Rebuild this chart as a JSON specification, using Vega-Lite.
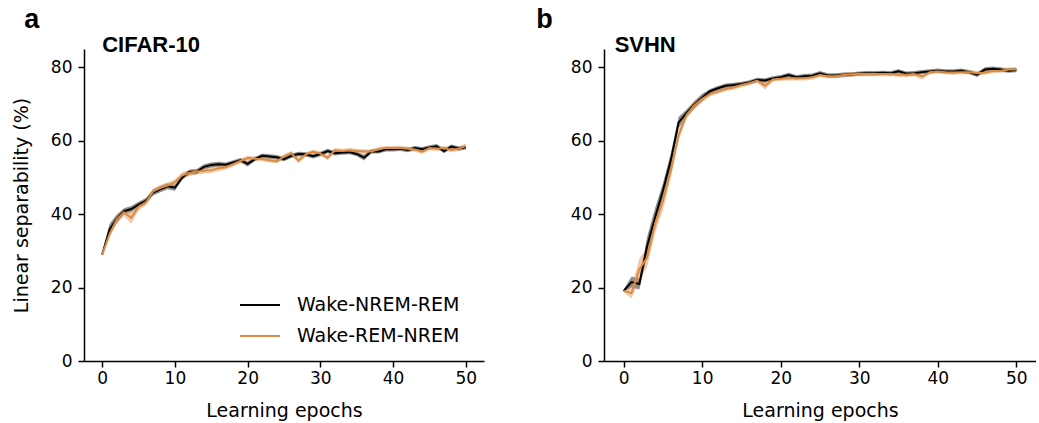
{
"$schema": "https://vega.github.io/schema/vega-lite/v6.json",
"background": "white",
"padding": {"left": 12, "top": 6, "right": 0, "bottom": 4},
"config": {
  "view": {"stroke": null},
  "axis": {"domainColor": "black", "tickColor": "black", "labelColor": "black", "titleColor": "black", "labelFont": "DejaVu Sans", "titleFont": "DejaVu Sans", "labelFontSize": 17, "titleFontSize": 19, "titleFontWeight": "normal", "grid": false, "tickSize": 6, "domainWidth": 1.5, "tickWidth": 1.5},
  "axisX": {"labelPadding": 3, "titlePadding": 15},
  "axisY": {"labelPadding": 6, "titlePadding": 19},
  "legend": {"labelFont": "DejaVu Sans", "labelFontSize": 19, "labelColor": "black", "labelLimit": 0}
},
"data": {"values": [
{"p":"a","s":"Wake-NREM-REM","e":0,"m":29.0,"lo":28.7,"hi":29.3},
{"p":"a","s":"Wake-NREM-REM","e":1,"m":35.8,"lo":34.3,"hi":37.3},
{"p":"a","s":"Wake-NREM-REM","e":2,"m":38.7,"lo":37.5,"hi":39.9},
{"p":"a","s":"Wake-NREM-REM","e":3,"m":40.8,"lo":40.0,"hi":41.6},
{"p":"a","s":"Wake-NREM-REM","e":4,"m":41.4,"lo":40.6,"hi":42.2},
{"p":"a","s":"Wake-NREM-REM","e":5,"m":42.6,"lo":41.8,"hi":43.4},
{"p":"a","s":"Wake-NREM-REM","e":6,"m":43.6,"lo":42.8,"hi":44.4},
{"p":"a","s":"Wake-NREM-REM","e":7,"m":45.9,"lo":45.1,"hi":46.7},
{"p":"a","s":"Wake-NREM-REM","e":8,"m":46.8,"lo":46.0,"hi":47.6},
{"p":"a","s":"Wake-NREM-REM","e":9,"m":47.6,"lo":46.8,"hi":48.4},
{"p":"a","s":"Wake-NREM-REM","e":10,"m":47.2,"lo":46.4,"hi":48.0},
{"p":"a","s":"Wake-NREM-REM","e":11,"m":50.0,"lo":49.3,"hi":50.7},
{"p":"a","s":"Wake-NREM-REM","e":12,"m":51.5,"lo":50.8,"hi":52.2},
{"p":"a","s":"Wake-NREM-REM","e":13,"m":51.6,"lo":50.9,"hi":52.3},
{"p":"a","s":"Wake-NREM-REM","e":14,"m":52.9,"lo":52.2,"hi":53.6},
{"p":"a","s":"Wake-NREM-REM","e":15,"m":53.4,"lo":52.7,"hi":54.1},
{"p":"a","s":"Wake-NREM-REM","e":16,"m":53.6,"lo":52.9,"hi":54.3},
{"p":"a","s":"Wake-NREM-REM","e":17,"m":53.5,"lo":52.9,"hi":54.1},
{"p":"a","s":"Wake-NREM-REM","e":18,"m":54.1,"lo":53.5,"hi":54.7},
{"p":"a","s":"Wake-NREM-REM","e":19,"m":54.7,"lo":54.1,"hi":55.3},
{"p":"a","s":"Wake-NREM-REM","e":20,"m":53.7,"lo":53.0,"hi":54.4},
{"p":"a","s":"Wake-NREM-REM","e":21,"m":55.0,"lo":54.4,"hi":55.6},
{"p":"a","s":"Wake-NREM-REM","e":22,"m":55.9,"lo":55.3,"hi":56.5},
{"p":"a","s":"Wake-NREM-REM","e":23,"m":55.7,"lo":55.1,"hi":56.3},
{"p":"a","s":"Wake-NREM-REM","e":24,"m":55.5,"lo":54.9,"hi":56.1},
{"p":"a","s":"Wake-NREM-REM","e":25,"m":55.0,"lo":54.4,"hi":55.6},
{"p":"a","s":"Wake-NREM-REM","e":26,"m":55.9,"lo":55.3,"hi":56.5},
{"p":"a","s":"Wake-NREM-REM","e":27,"m":56.4,"lo":55.8,"hi":57.0},
{"p":"a","s":"Wake-NREM-REM","e":28,"m":56.3,"lo":55.7,"hi":56.9},
{"p":"a","s":"Wake-NREM-REM","e":29,"m":55.8,"lo":55.2,"hi":56.4},
{"p":"a","s":"Wake-NREM-REM","e":30,"m":56.4,"lo":55.8,"hi":57.0},
{"p":"a","s":"Wake-NREM-REM","e":31,"m":57.2,"lo":56.6,"hi":57.8},
{"p":"a","s":"Wake-NREM-REM","e":32,"m":56.6,"lo":56.0,"hi":57.2},
{"p":"a","s":"Wake-NREM-REM","e":33,"m":56.8,"lo":56.2,"hi":57.4},
{"p":"a","s":"Wake-NREM-REM","e":34,"m":56.9,"lo":56.3,"hi":57.5},
{"p":"a","s":"Wake-NREM-REM","e":35,"m":56.4,"lo":55.8,"hi":57.0},
{"p":"a","s":"Wake-NREM-REM","e":36,"m":55.4,"lo":54.6,"hi":56.2},
{"p":"a","s":"Wake-NREM-REM","e":37,"m":57.1,"lo":56.5,"hi":57.7},
{"p":"a","s":"Wake-NREM-REM","e":38,"m":57.1,"lo":56.5,"hi":57.7},
{"p":"a","s":"Wake-NREM-REM","e":39,"m":57.7,"lo":57.1,"hi":58.3},
{"p":"a","s":"Wake-NREM-REM","e":40,"m":57.7,"lo":57.1,"hi":58.3},
{"p":"a","s":"Wake-NREM-REM","e":41,"m":57.8,"lo":57.2,"hi":58.4},
{"p":"a","s":"Wake-NREM-REM","e":42,"m":57.5,"lo":56.9,"hi":58.1},
{"p":"a","s":"Wake-NREM-REM","e":43,"m":58.0,"lo":57.4,"hi":58.6},
{"p":"a","s":"Wake-NREM-REM","e":44,"m":57.7,"lo":57.1,"hi":58.3},
{"p":"a","s":"Wake-NREM-REM","e":45,"m":58.2,"lo":57.6,"hi":58.8},
{"p":"a","s":"Wake-NREM-REM","e":46,"m":58.5,"lo":57.9,"hi":59.1},
{"p":"a","s":"Wake-NREM-REM","e":47,"m":57.2,"lo":56.6,"hi":57.8},
{"p":"a","s":"Wake-NREM-REM","e":48,"m":58.4,"lo":57.8,"hi":59.0},
{"p":"a","s":"Wake-NREM-REM","e":49,"m":57.9,"lo":57.3,"hi":58.5},
{"p":"a","s":"Wake-NREM-REM","e":50,"m":58.2,"lo":57.6,"hi":58.8},
{"p":"a","s":"Wake-REM-NREM","e":0,"m":29.0,"lo":28.7,"hi":29.3},
{"p":"a","s":"Wake-REM-NREM","e":1,"m":34.5,"lo":33.5,"hi":35.5},
{"p":"a","s":"Wake-REM-NREM","e":2,"m":38.5,"lo":37.5,"hi":39.5},
{"p":"a","s":"Wake-REM-NREM","e":3,"m":40.5,"lo":39.5,"hi":41.5},
{"p":"a","s":"Wake-REM-NREM","e":4,"m":39.0,"lo":37.4,"hi":40.6},
{"p":"a","s":"Wake-REM-NREM","e":5,"m":42.0,"lo":41.0,"hi":43.0},
{"p":"a","s":"Wake-REM-NREM","e":6,"m":43.2,"lo":42.4,"hi":44.0},
{"p":"a","s":"Wake-REM-NREM","e":7,"m":46.2,"lo":45.4,"hi":47.0},
{"p":"a","s":"Wake-REM-NREM","e":8,"m":47.2,"lo":46.4,"hi":48.0},
{"p":"a","s":"Wake-REM-NREM","e":9,"m":47.8,"lo":47.0,"hi":48.6},
{"p":"a","s":"Wake-REM-NREM","e":10,"m":48.7,"lo":47.9,"hi":49.5},
{"p":"a","s":"Wake-REM-NREM","e":11,"m":50.6,"lo":49.8,"hi":51.4},
{"p":"a","s":"Wake-REM-NREM","e":12,"m":51.2,"lo":50.4,"hi":52.0},
{"p":"a","s":"Wake-REM-NREM","e":13,"m":51.6,"lo":50.8,"hi":52.4},
{"p":"a","s":"Wake-REM-NREM","e":14,"m":51.8,"lo":51.0,"hi":52.6},
{"p":"a","s":"Wake-REM-NREM","e":15,"m":52.0,"lo":51.2,"hi":52.8},
{"p":"a","s":"Wake-REM-NREM","e":16,"m":52.5,"lo":51.7,"hi":53.3},
{"p":"a","s":"Wake-REM-NREM","e":17,"m":52.8,"lo":52.2,"hi":53.4},
{"p":"a","s":"Wake-REM-NREM","e":18,"m":53.6,"lo":53.0,"hi":54.2},
{"p":"a","s":"Wake-REM-NREM","e":19,"m":54.5,"lo":53.9,"hi":55.1},
{"p":"a","s":"Wake-REM-NREM","e":20,"m":55.3,"lo":54.7,"hi":55.9},
{"p":"a","s":"Wake-REM-NREM","e":21,"m":55.1,"lo":54.5,"hi":55.7},
{"p":"a","s":"Wake-REM-NREM","e":22,"m":55.0,"lo":54.4,"hi":55.6},
{"p":"a","s":"Wake-REM-NREM","e":23,"m":54.7,"lo":54.1,"hi":55.3},
{"p":"a","s":"Wake-REM-NREM","e":24,"m":54.4,"lo":53.8,"hi":55.0},
{"p":"a","s":"Wake-REM-NREM","e":25,"m":55.7,"lo":55.1,"hi":56.3},
{"p":"a","s":"Wake-REM-NREM","e":26,"m":56.6,"lo":56.0,"hi":57.2},
{"p":"a","s":"Wake-REM-NREM","e":27,"m":54.6,"lo":53.8,"hi":55.4},
{"p":"a","s":"Wake-REM-NREM","e":28,"m":56.3,"lo":55.7,"hi":56.9},
{"p":"a","s":"Wake-REM-NREM","e":29,"m":57.0,"lo":56.4,"hi":57.6},
{"p":"a","s":"Wake-REM-NREM","e":30,"m":56.5,"lo":55.9,"hi":57.1},
{"p":"a","s":"Wake-REM-NREM","e":31,"m":55.4,"lo":54.7,"hi":56.1},
{"p":"a","s":"Wake-REM-NREM","e":32,"m":57.4,"lo":56.8,"hi":58.0},
{"p":"a","s":"Wake-REM-NREM","e":33,"m":57.2,"lo":56.6,"hi":57.8},
{"p":"a","s":"Wake-REM-NREM","e":34,"m":57.4,"lo":56.8,"hi":58.0},
{"p":"a","s":"Wake-REM-NREM","e":35,"m":57.2,"lo":56.6,"hi":57.8},
{"p":"a","s":"Wake-REM-NREM","e":36,"m":57.1,"lo":56.5,"hi":57.7},
{"p":"a","s":"Wake-REM-NREM","e":37,"m":57.1,"lo":56.5,"hi":57.7},
{"p":"a","s":"Wake-REM-NREM","e":38,"m":57.7,"lo":57.1,"hi":58.3},
{"p":"a","s":"Wake-REM-NREM","e":39,"m":58.0,"lo":57.4,"hi":58.6},
{"p":"a","s":"Wake-REM-NREM","e":40,"m":58.0,"lo":57.4,"hi":58.6},
{"p":"a","s":"Wake-REM-NREM","e":41,"m":58.0,"lo":57.4,"hi":58.6},
{"p":"a","s":"Wake-REM-NREM","e":42,"m":57.8,"lo":57.2,"hi":58.4},
{"p":"a","s":"Wake-REM-NREM","e":43,"m":57.6,"lo":57.0,"hi":58.2},
{"p":"a","s":"Wake-REM-NREM","e":44,"m":57.0,"lo":56.4,"hi":57.6},
{"p":"a","s":"Wake-REM-NREM","e":45,"m":58.0,"lo":57.4,"hi":58.6},
{"p":"a","s":"Wake-REM-NREM","e":46,"m":57.8,"lo":57.2,"hi":58.4},
{"p":"a","s":"Wake-REM-NREM","e":47,"m":58.0,"lo":57.4,"hi":58.6},
{"p":"a","s":"Wake-REM-NREM","e":48,"m":57.5,"lo":56.9,"hi":58.1},
{"p":"a","s":"Wake-REM-NREM","e":49,"m":57.8,"lo":57.2,"hi":58.4},
{"p":"a","s":"Wake-REM-NREM","e":50,"m":58.6,"lo":58.0,"hi":59.2},
{"p":"b","s":"Wake-NREM-REM","e":0,"m":19.1,"lo":18.7,"hi":19.5},
{"p":"b","s":"Wake-NREM-REM","e":1,"m":21.5,"lo":20.0,"hi":23.0},
{"p":"b","s":"Wake-NREM-REM","e":2,"m":21.0,"lo":19.5,"hi":22.5},
{"p":"b","s":"Wake-NREM-REM","e":3,"m":31.4,"lo":28.9,"hi":33.9},
{"p":"b","s":"Wake-NREM-REM","e":4,"m":39.1,"lo":36.6,"hi":41.6},
{"p":"b","s":"Wake-NREM-REM","e":5,"m":46.4,"lo":44.4,"hi":48.4},
{"p":"b","s":"Wake-NREM-REM","e":6,"m":54.6,"lo":52.6,"hi":56.6},
{"p":"b","s":"Wake-NREM-REM","e":7,"m":65.0,"lo":63.5,"hi":66.5},
{"p":"b","s":"Wake-NREM-REM","e":8,"m":67.5,"lo":66.5,"hi":68.5},
{"p":"b","s":"Wake-NREM-REM","e":9,"m":69.8,"lo":68.8,"hi":70.8},
{"p":"b","s":"Wake-NREM-REM","e":10,"m":71.8,"lo":70.8,"hi":72.8},
{"p":"b","s":"Wake-NREM-REM","e":11,"m":73.5,"lo":72.9,"hi":74.1},
{"p":"b","s":"Wake-NREM-REM","e":12,"m":74.3,"lo":73.7,"hi":74.9},
{"p":"b","s":"Wake-NREM-REM","e":13,"m":75.0,"lo":74.4,"hi":75.6},
{"p":"b","s":"Wake-NREM-REM","e":14,"m":75.2,"lo":74.6,"hi":75.8},
{"p":"b","s":"Wake-NREM-REM","e":15,"m":75.5,"lo":74.9,"hi":76.1},
{"p":"b","s":"Wake-NREM-REM","e":16,"m":75.9,"lo":75.3,"hi":76.5},
{"p":"b","s":"Wake-NREM-REM","e":17,"m":76.6,"lo":76.0,"hi":77.2},
{"p":"b","s":"Wake-NREM-REM","e":18,"m":76.4,"lo":75.8,"hi":77.0},
{"p":"b","s":"Wake-NREM-REM","e":19,"m":77.0,"lo":76.4,"hi":77.6},
{"p":"b","s":"Wake-NREM-REM","e":20,"m":77.3,"lo":76.7,"hi":77.9},
{"p":"b","s":"Wake-NREM-REM","e":21,"m":77.9,"lo":77.3,"hi":78.5},
{"p":"b","s":"Wake-NREM-REM","e":22,"m":77.3,"lo":76.7,"hi":77.9},
{"p":"b","s":"Wake-NREM-REM","e":23,"m":77.6,"lo":77.0,"hi":78.2},
{"p":"b","s":"Wake-NREM-REM","e":24,"m":77.7,"lo":77.1,"hi":78.3},
{"p":"b","s":"Wake-NREM-REM","e":25,"m":78.4,"lo":77.8,"hi":79.0},
{"p":"b","s":"Wake-NREM-REM","e":26,"m":77.8,"lo":77.2,"hi":78.4},
{"p":"b","s":"Wake-NREM-REM","e":27,"m":77.8,"lo":77.2,"hi":78.4},
{"p":"b","s":"Wake-NREM-REM","e":28,"m":78.0,"lo":77.4,"hi":78.6},
{"p":"b","s":"Wake-NREM-REM","e":29,"m":78.1,"lo":77.5,"hi":78.7},
{"p":"b","s":"Wake-NREM-REM","e":30,"m":78.3,"lo":77.7,"hi":78.9},
{"p":"b","s":"Wake-NREM-REM","e":31,"m":78.4,"lo":77.8,"hi":79.0},
{"p":"b","s":"Wake-NREM-REM","e":32,"m":78.4,"lo":77.8,"hi":79.0},
{"p":"b","s":"Wake-NREM-REM","e":33,"m":78.5,"lo":77.9,"hi":79.1},
{"p":"b","s":"Wake-NREM-REM","e":34,"m":78.4,"lo":77.8,"hi":79.0},
{"p":"b","s":"Wake-NREM-REM","e":35,"m":78.9,"lo":78.3,"hi":79.5},
{"p":"b","s":"Wake-NREM-REM","e":36,"m":78.3,"lo":77.7,"hi":78.9},
{"p":"b","s":"Wake-NREM-REM","e":37,"m":78.4,"lo":77.8,"hi":79.0},
{"p":"b","s":"Wake-NREM-REM","e":38,"m":78.7,"lo":78.1,"hi":79.3},
{"p":"b","s":"Wake-NREM-REM","e":39,"m":78.9,"lo":78.3,"hi":79.5},
{"p":"b","s":"Wake-NREM-REM","e":40,"m":79.1,"lo":78.5,"hi":79.7},
{"p":"b","s":"Wake-NREM-REM","e":41,"m":78.9,"lo":78.3,"hi":79.5},
{"p":"b","s":"Wake-NREM-REM","e":42,"m":78.9,"lo":78.3,"hi":79.5},
{"p":"b","s":"Wake-NREM-REM","e":43,"m":79.1,"lo":78.5,"hi":79.7},
{"p":"b","s":"Wake-NREM-REM","e":44,"m":78.7,"lo":78.1,"hi":79.3},
{"p":"b","s":"Wake-NREM-REM","e":45,"m":78.0,"lo":77.4,"hi":78.6},
{"p":"b","s":"Wake-NREM-REM","e":46,"m":79.4,"lo":78.8,"hi":80.0},
{"p":"b","s":"Wake-NREM-REM","e":47,"m":79.6,"lo":79.0,"hi":80.2},
{"p":"b","s":"Wake-NREM-REM","e":48,"m":79.4,"lo":78.8,"hi":80.0},
{"p":"b","s":"Wake-NREM-REM","e":49,"m":79.1,"lo":78.5,"hi":79.7},
{"p":"b","s":"Wake-NREM-REM","e":50,"m":79.3,"lo":78.7,"hi":79.9},
{"p":"b","s":"Wake-REM-NREM","e":0,"m":19.1,"lo":18.7,"hi":19.5},
{"p":"b","s":"Wake-REM-NREM","e":1,"m":18.5,"lo":17.0,"hi":20.0},
{"p":"b","s":"Wake-REM-NREM","e":2,"m":25.0,"lo":22.0,"hi":28.0},
{"p":"b","s":"Wake-REM-NREM","e":3,"m":28.2,"lo":25.7,"hi":30.7},
{"p":"b","s":"Wake-REM-NREM","e":4,"m":37.3,"lo":34.8,"hi":39.8},
{"p":"b","s":"Wake-REM-NREM","e":5,"m":43.6,"lo":41.1,"hi":46.1},
{"p":"b","s":"Wake-REM-NREM","e":6,"m":51.8,"lo":49.8,"hi":53.8},
{"p":"b","s":"Wake-REM-NREM","e":7,"m":61.5,"lo":60.0,"hi":63.0},
{"p":"b","s":"Wake-REM-NREM","e":8,"m":67.0,"lo":66.0,"hi":68.0},
{"p":"b","s":"Wake-REM-NREM","e":9,"m":69.6,"lo":68.6,"hi":70.6},
{"p":"b","s":"Wake-REM-NREM","e":10,"m":71.4,"lo":70.4,"hi":72.4},
{"p":"b","s":"Wake-REM-NREM","e":11,"m":72.7,"lo":72.1,"hi":73.3},
{"p":"b","s":"Wake-REM-NREM","e":12,"m":73.4,"lo":72.8,"hi":74.0},
{"p":"b","s":"Wake-REM-NREM","e":13,"m":74.1,"lo":73.5,"hi":74.7},
{"p":"b","s":"Wake-REM-NREM","e":14,"m":74.5,"lo":73.9,"hi":75.1},
{"p":"b","s":"Wake-REM-NREM","e":15,"m":75.2,"lo":74.6,"hi":75.8},
{"p":"b","s":"Wake-REM-NREM","e":16,"m":75.7,"lo":75.1,"hi":76.3},
{"p":"b","s":"Wake-REM-NREM","e":17,"m":76.4,"lo":75.8,"hi":77.0},
{"p":"b","s":"Wake-REM-NREM","e":18,"m":75.0,"lo":74.0,"hi":76.0},
{"p":"b","s":"Wake-REM-NREM","e":19,"m":76.7,"lo":76.1,"hi":77.3},
{"p":"b","s":"Wake-REM-NREM","e":20,"m":76.9,"lo":76.3,"hi":77.5},
{"p":"b","s":"Wake-REM-NREM","e":21,"m":77.0,"lo":76.4,"hi":77.6},
{"p":"b","s":"Wake-REM-NREM","e":22,"m":77.0,"lo":76.4,"hi":77.6},
{"p":"b","s":"Wake-REM-NREM","e":23,"m":77.0,"lo":76.4,"hi":77.6},
{"p":"b","s":"Wake-REM-NREM","e":24,"m":77.3,"lo":76.7,"hi":77.9},
{"p":"b","s":"Wake-REM-NREM","e":25,"m":77.9,"lo":77.3,"hi":78.5},
{"p":"b","s":"Wake-REM-NREM","e":26,"m":77.6,"lo":77.0,"hi":78.2},
{"p":"b","s":"Wake-REM-NREM","e":27,"m":77.6,"lo":77.0,"hi":78.2},
{"p":"b","s":"Wake-REM-NREM","e":28,"m":77.9,"lo":77.3,"hi":78.5},
{"p":"b","s":"Wake-REM-NREM","e":29,"m":78.1,"lo":77.5,"hi":78.7},
{"p":"b","s":"Wake-REM-NREM","e":30,"m":78.2,"lo":77.6,"hi":78.8},
{"p":"b","s":"Wake-REM-NREM","e":31,"m":78.2,"lo":77.6,"hi":78.8},
{"p":"b","s":"Wake-REM-NREM","e":32,"m":78.2,"lo":77.6,"hi":78.8},
{"p":"b","s":"Wake-REM-NREM","e":33,"m":78.2,"lo":77.6,"hi":78.8},
{"p":"b","s":"Wake-REM-NREM","e":34,"m":78.2,"lo":77.6,"hi":78.8},
{"p":"b","s":"Wake-REM-NREM","e":35,"m":78.0,"lo":77.4,"hi":78.6},
{"p":"b","s":"Wake-REM-NREM","e":36,"m":78.0,"lo":77.4,"hi":78.6},
{"p":"b","s":"Wake-REM-NREM","e":37,"m":78.2,"lo":77.6,"hi":78.8},
{"p":"b","s":"Wake-REM-NREM","e":38,"m":77.5,"lo":76.7,"hi":78.3},
{"p":"b","s":"Wake-REM-NREM","e":39,"m":78.7,"lo":78.1,"hi":79.3},
{"p":"b","s":"Wake-REM-NREM","e":40,"m":78.9,"lo":78.3,"hi":79.5},
{"p":"b","s":"Wake-REM-NREM","e":41,"m":78.7,"lo":78.1,"hi":79.3},
{"p":"b","s":"Wake-REM-NREM","e":42,"m":78.6,"lo":78.0,"hi":79.2},
{"p":"b","s":"Wake-REM-NREM","e":43,"m":78.7,"lo":78.1,"hi":79.3},
{"p":"b","s":"Wake-REM-NREM","e":44,"m":78.7,"lo":78.1,"hi":79.3},
{"p":"b","s":"Wake-REM-NREM","e":45,"m":78.4,"lo":77.8,"hi":79.0},
{"p":"b","s":"Wake-REM-NREM","e":46,"m":78.6,"lo":78.0,"hi":79.2},
{"p":"b","s":"Wake-REM-NREM","e":47,"m":79.0,"lo":78.4,"hi":79.6},
{"p":"b","s":"Wake-REM-NREM","e":48,"m":79.1,"lo":78.5,"hi":79.7},
{"p":"b","s":"Wake-REM-NREM","e":49,"m":79.4,"lo":78.8,"hi":80.0},
{"p":"b","s":"Wake-REM-NREM","e":50,"m":79.4,"lo":78.8,"hi":80.0}
]},
"spacing": 120,
"bounds": "flush",
"resolve": {"scale": {"color": "independent"}},
"hconcat": [
 {
  "width": 400, "height": 312,
  "title": {"text": "a", "anchor": "start", "frame": "bounds", "font": "Liberation Sans", "fontSize": 27, "fontWeight": "bold", "color": "black", "baseline": "alphabetic", "dx": 12, "offset": -21},
  "layer": [
   {"transform": [{"filter": "datum.p == 'a'"}],
    "mark": {"type": "area", "opacity": 0.45},
    "encoding": {
     "x": {"field": "e", "type": "quantitative", "scale": {"domain": [-2.5, 52.5], "nice": false, "zero": false}, "axis": {"values": [0,10,20,30,40,50], "title": "Learning epochs"}},
     "y": {"field": "lo", "type": "quantitative", "scale": {"domain": [0, 85], "nice": false}, "axis": {"values": [0,20,40,60,80], "title": "Linear separability (%)"}},
     "y2": {"field": "hi"},
     "color": {"field": "s", "type": "nominal", "scale": {"domain": ["Wake-NREM-REM", "Wake-REM-NREM"], "range": ["#000000", "#d98c45"]}}
    }},
   {"transform": [{"filter": "datum.p == 'a'"}],
    "mark": {"type": "line", "strokeWidth": 2},
    "encoding": {
     "x": {"field": "e", "type": "quantitative"},
     "y": {"field": "m", "type": "quantitative"},
     "color": {"field": "s", "type": "nominal",
       "legend": {"title": null, "orient": "none", "legendX": 155, "legendY": 235, "symbolType": "stroke", "symbolSize": 1600, "symbolStrokeWidth": 2, "symbolOpacity": 1, "labelOffset": 16, "rowPadding": -4, "padding": 0,
         "encode": {"symbols": {"update": {"opacity": {"value": 1}, "strokeOpacity": {"value": 1}, "strokeWidth": {"value": 2}}}}}}
    }},
   {"data": {"values": [{"t": "CIFAR-10"}]},
    "mark": {"type": "text", "font": "Liberation Sans", "fontSize": 22, "fontWeight": "bold", "align": "left", "baseline": "top", "dy": -14, "color": "black"},
    "encoding": {"text": {"field": "t"}, "x": {"datum": 0}, "y": {"datum": 85}}}
  ]
 },
 {
  "width": 432, "height": 312,
  "title": {"text": "b", "anchor": "start", "frame": "bounds", "font": "Liberation Sans", "fontSize": 27, "fontWeight": "bold", "color": "black", "baseline": "alphabetic", "dx": -34, "offset": -21},
  "layer": [
   {"transform": [{"filter": "datum.p == 'b'"}],
    "mark": {"type": "area", "opacity": 0.45},
    "encoding": {
     "x": {"field": "e", "type": "quantitative", "scale": {"domain": [-2.5, 52.5], "nice": false, "zero": false}, "axis": {"values": [0,10,20,30,40,50], "title": "Learning epochs"}},
     "y": {"field": "lo", "type": "quantitative", "scale": {"domain": [0, 85], "nice": false}, "axis": {"values": [0,20,40,60,80], "title": null}},
     "y2": {"field": "hi"},
     "color": {"field": "s", "type": "nominal", "scale": {"domain": ["Wake-NREM-REM", "Wake-REM-NREM"], "range": ["#000000", "#d98c45"]}, "legend": null}
    }},
   {"transform": [{"filter": "datum.p == 'b'"}],
    "mark": {"type": "line", "strokeWidth": 2},
    "encoding": {
     "x": {"field": "e", "type": "quantitative"},
     "y": {"field": "m", "type": "quantitative"},
     "color": {"field": "s", "type": "nominal", "legend": null}
    }},
   {"data": {"values": [{"t": "SVHN"}]},
    "mark": {"type": "text", "font": "Liberation Sans", "fontSize": 22, "fontWeight": "bold", "align": "left", "baseline": "top", "dx": -9, "dy": -14, "color": "black"},
    "encoding": {"text": {"field": "t"}, "x": {"datum": 0}, "y": {"datum": 85}}}
  ]
 }
]
}
